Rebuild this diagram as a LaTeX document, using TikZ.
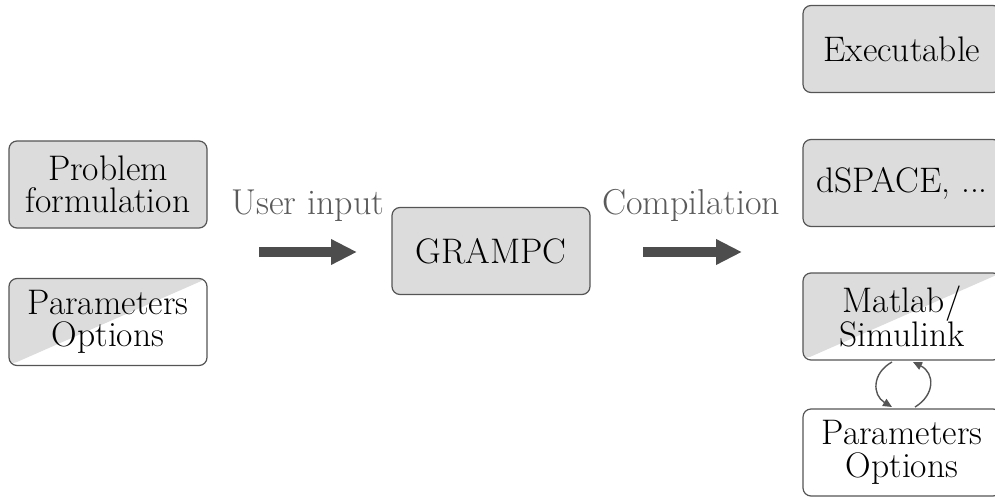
\documentclass[tikz,border=0pt]{standalone}
\usetikzlibrary{arrows.meta}
\definecolor{boxfill}{RGB}{220,220,220}
\definecolor{boxline}{RGB}{85,85,85}
\definecolor{arrowgrey}{RGB}{77,77,77}
\definecolor{labelgrey}{RGB}{90,90,90}
\begin{document}
\begin{tikzpicture}[x=1pt,y=-1pt,
  box/.style={draw=boxline, line width=1.2pt, rounded corners=8pt,
    minimum width=198pt, minimum height=87pt, inner sep=0pt,
    align=center, font=\fontsize{35.5}{32.5}\selectfont, text=black},
  fullbox/.style={box, fill=boxfill},
  halfbox/.style={box, path picture={\fill[boxfill]
      (path picture bounding box.south west) --
      (path picture bounding box.north east) --
      (path picture bounding box.north west) -- cycle;}},
  whitebox/.style={box, fill=white},
  bigarrow/.style={line width=10pt, draw=arrowgrey,
    -{Triangle[length=26pt,width=24pt]}},
  lbl/.style={anchor=base, text=labelgrey, font=\fontsize{36}{33}\selectfont},
  cyc/.style={line width=1.4pt, draw=boxline,
    -{Triangle[length=9pt,width=8pt]}}]
\useasboundingbox (0,0) rectangle (995,498);

\node[fullbox] (prob) at (108,184.5) {Problem\\formulation};
\node[halfbox] (parL) at (108,322) {Parameters\\Options};
\node[fullbox] (grampc) at (491,251) {GRAMPC};
\node[fullbox] (exe) at (902,49) {Executable};
\node[fullbox] (dspace) at (902,183) {dSPACE, ...};
\node[halfbox] (matlab) at (902,316.5) {Matlab/\\Simulink};
\node[whitebox] (parR) at (902,452.5) {Parameters\\Options};

\node[lbl] (uin) at (308,214) {User input};
\node[lbl] (comp) at (691,214) {Compilation};

\coordinate (a1s) at (259,252);
\coordinate (a1e) at (357,252);
\coordinate (a2s) at (643,252);
\coordinate (a2e) at (742,252);
\draw[bigarrow] (a1s) -- (a1e);
\draw[bigarrow] (a2s) -- (a2e);

\coordinate (c1s) at (892,362);
\coordinate (c1e) at (892,407);
\coordinate (c2s) at (915,407);
\coordinate (c2e) at (913,362);
\draw[cyc] (c1s) .. controls (872,373) and (872,395) .. (c1e);
\draw[cyc] (c2s) .. controls (935,395) and (935,373) .. (c2e);
\end{tikzpicture}
\end{document}
